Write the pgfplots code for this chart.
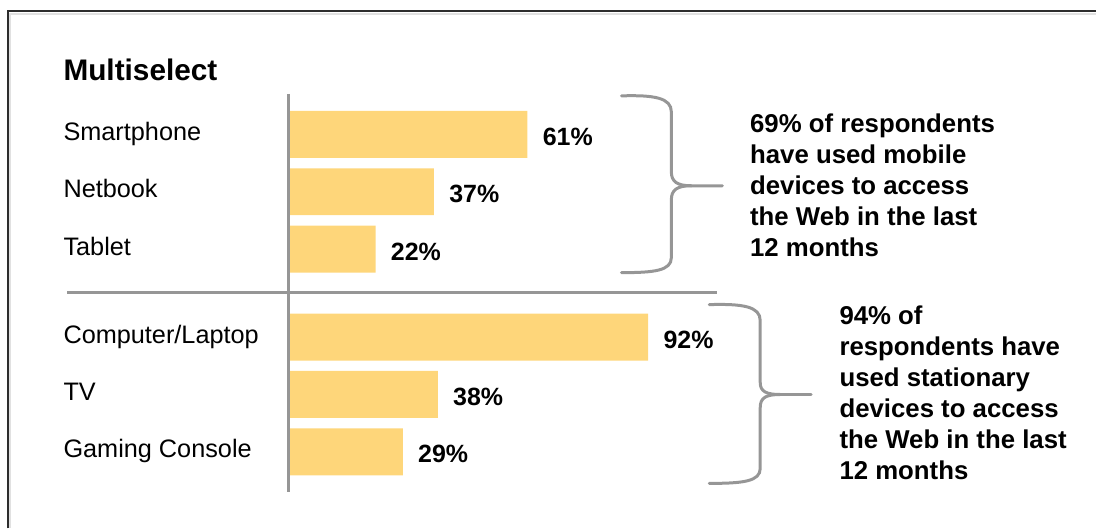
\documentclass[border=0pt]{standalone}
\usepackage{fontspec}
\setmainfont{Liberation Sans}
\usepackage{pgfplots}
\pgfplotsset{compat=1.18}
\definecolor{barc}{RGB}{254,214,122}
\definecolor{linec}{RGB}{150,150,150}
\definecolor{framec}{RGB}{45,45,45}
\definecolor{shadowc}{RGB}{225,225,225}
\begin{document}
\begin{tikzpicture}
\begin{scope}[x=0.5pt,y=-0.5pt]
\useasboundingbox (0,0) rectangle (1097,529);
\end{scope}
\begin{axis}[
  at={(0,0)}, anchor=north west,
  scale only axis, width=548.5pt, height=264.5pt,
  xmin=-74.359, xmax=206.923,
  ymin=-2.3391, ymax=6.8609, y dir=reverse,
  clip=false,
  axis x line=none, axis y line=left,
  y axis line style={draw=none},
  major tick length=0pt,
  ytick={0,1,2,3.53,4.53,5.53},
  yticklabels={Smartphone,Netbook,Tablet,Computer/Laptop,TV,Gaming Console},
  yticklabel style={anchor=base west, inner sep=0pt, font=\fontsize{12.65}{14}\selectfont, xshift=31.5pt, yshift=-3pt},
  xbar, bar width=23.5pt,
  nodes near coords={\pgfmathprintnumber[assume math mode=true]{\pgfplotspointmeta}\%},
  every node near coord/.append style={anchor=base west, inner sep=0pt, xshift=7.5pt, yshift=-5.5pt, font=\fontsize{12.5}{14}\selectfont\bfseries, text=black},
]
\addplot[fill=barc, draw=none] coordinates {(61,0) (37,1) (22,2) (92,3.53) (38,4.53) (29,5.53)};
\end{axis}
\begin{scope}[x=0.5pt,y=-0.5pt]
% frame
\draw[shadowc, line width=1.2pt] (10,529) -- (10,14) -- (1097,14);
\draw[framec, line width=1pt] (7.5,529) -- (7.5,11) -- (1097,11);
% axis line and separator
\draw[linec, line width=1.4pt] (288.5,94) -- (288.5,493);
\draw[linec, line width=1.3pt] (67,293) -- (718,293);
% title
\node[anchor=base west, inner sep=0pt, font=\fontsize{14.9}{17}\selectfont\bfseries] at (63,81) {Multiselect};
% braces
\draw[linec, line width=1.5pt, line cap=round]
  (622,96) .. controls (655,95) and (672,98) .. (672,112) -- (672,172)
  .. controls (672,182) and (678,186) .. (692,186) -- (723,186);
\draw[linec, line width=1.5pt, line cap=round]
  (692,186) .. controls (678,186) and (672,190) .. (672,200) -- (672,258)
  .. controls (672,271) and (655,273) .. (622,273);
\draw[linec, line width=1.5pt, line cap=round]
  (710,305) .. controls (744,304) and (761,307) .. (761,321) -- (761,383)
  .. controls (761,392) and (767,395) .. (781,395) -- (812,395);
\draw[linec, line width=1.5pt, line cap=round]
  (781,395) .. controls (767,395) and (761,398) .. (761,408) -- (761,469)
  .. controls (761,482) and (744,484) .. (710,484);
% annotations
\foreach \t [count=\i from 0] in {69\% of respondents, have used mobile, devices to access, the Web in the last, 12 months}
  \node[anchor=base west, inner sep=0pt, font=\fontsize{12.9}{15}\selectfont\bfseries] at (750.5,133+31*\i) {\t};
\foreach \t [count=\i from 0] in {94\% of, respondents have, used stationary, devices to access, the Web in the last, 12 months}
  \node[anchor=base west, inner sep=0pt, font=\fontsize{12.9}{15}\selectfont\bfseries] at (840,325+31*\i) {\t};
\end{scope}
\end{tikzpicture}
\end{document}
